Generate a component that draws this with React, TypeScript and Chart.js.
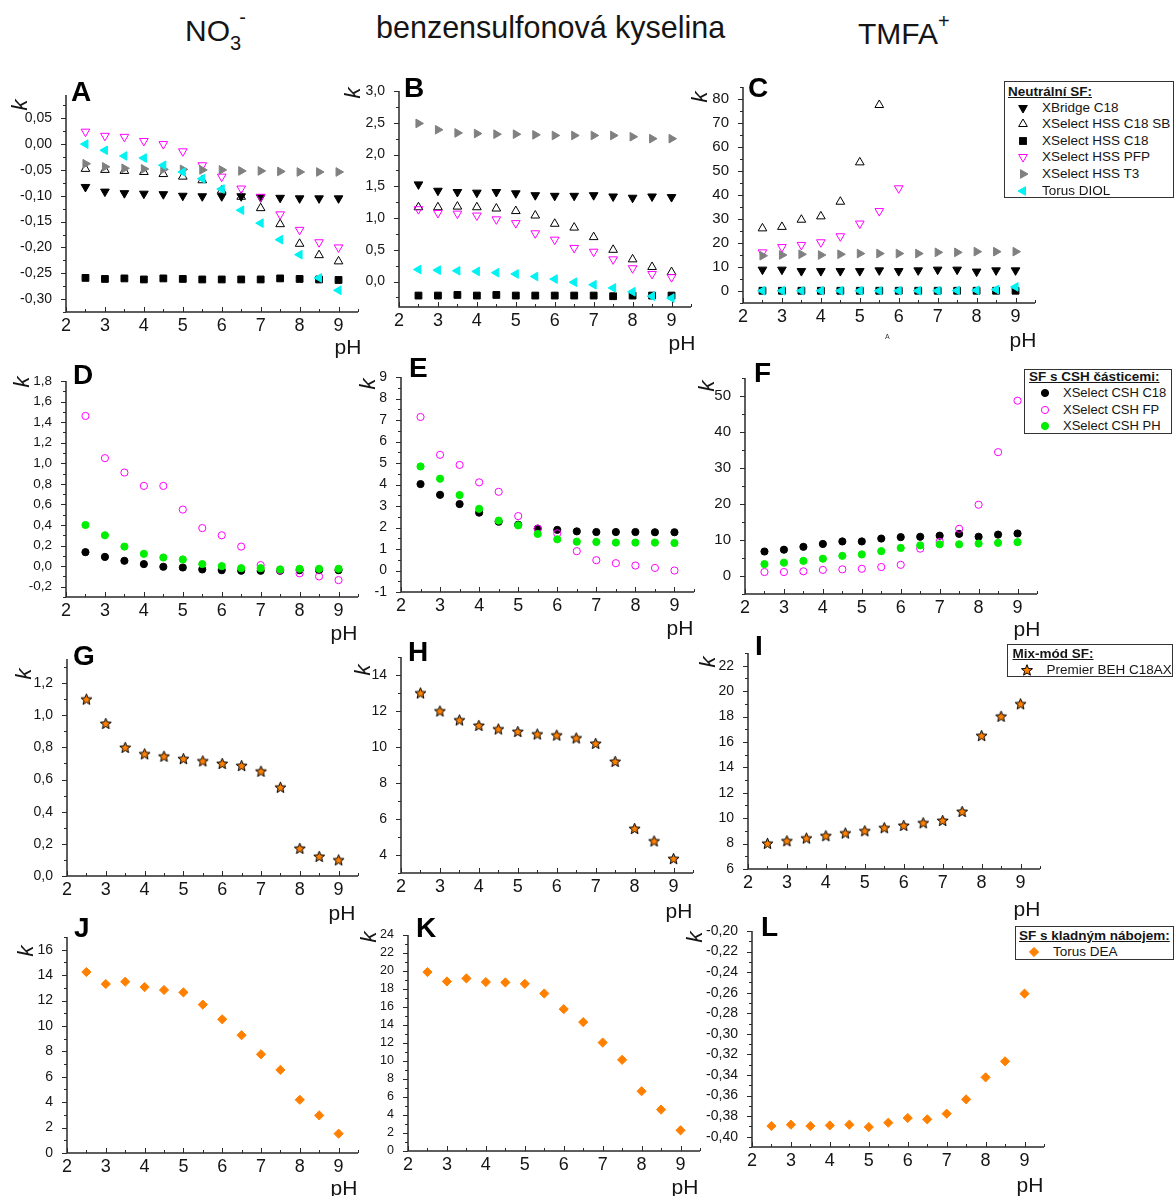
import React, { useEffect, useRef } from 'react';
import { Chart, registerables } from 'chart.js';

Chart.register(...registerables);

const FONT = "'Liberation Sans', Arial, Helvetica, sans-serif";

// ---------------- data ----------------
const PH = [2.5, 3, 3.5, 4, 4.5, 5, 5.5, 6, 6.5, 7, 7.5, 8, 8.5, 9];
const X_TICKS = [2, 3, 4, 5, 6, 7, 8, 9];

// A: NO3-, neutral phases
const A_XBRIDGE_C18 = [-0.083, -0.092, -0.095, -0.096, -0.097, -0.1, -0.101, -0.101, -0.101, -0.103, -0.104, -0.105, -0.105, -0.105];
const A_XSELECT_HSS_C18_SB = [-0.048, -0.05, -0.052, -0.054, -0.058, -0.063, -0.07, -0.09, -0.102, -0.124, -0.155, -0.193, -0.215, -0.227];
const A_XSELECT_HSS_C18 = [-0.259, -0.261, -0.26, -0.262, -0.26, -0.261, -0.262, -0.262, -0.262, -0.262, -0.26, -0.261, -0.262, -0.263];
const A_XSELECT_HSS_PFP = [0.024, 0.016, 0.014, 0.006, 0.0, -0.014, -0.041, -0.063, -0.086, -0.102, -0.136, -0.166, -0.19, -0.2];
const A_XSELECT_HSS_T3 = [-0.038, -0.044, -0.047, -0.048, -0.049, -0.049, -0.05, -0.05, -0.052, -0.052, -0.053, -0.054, -0.054, -0.054];
const A_TORUS_DIOL = [0.0, -0.012, -0.023, -0.027, -0.041, -0.054, -0.067, -0.087, -0.128, -0.153, -0.185, -0.214, -0.259, -0.283];

// B: benzenesulfonic acid, neutral phases
const B_XBRIDGE_C18 = [1.53, 1.43, 1.41, 1.4, 1.41, 1.39, 1.36, 1.35, 1.35, 1.36, 1.34, 1.32, 1.34, 1.33];
const B_XSELECT_HSS_C18_SB = [1.17, 1.17, 1.18, 1.17, 1.15, 1.11, 1.04, 0.91, 0.85, 0.7, 0.5, 0.35, 0.23, 0.15];
const B_XSELECT_HSS_C18 = [-0.22, -0.22, -0.21, -0.22, -0.21, -0.22, -0.22, -0.22, -0.22, -0.22, -0.23, -0.22, -0.22, -0.22];
const B_XSELECT_HSS_PFP = [1.14, 1.08, 1.07, 1.04, 0.98, 0.92, 0.76, 0.66, 0.53, 0.47, 0.35, 0.21, 0.12, 0.07];
const B_XSELECT_HSS_T3 = [2.49, 2.39, 2.34, 2.33, 2.32, 2.32, 2.31, 2.3, 2.3, 2.3, 2.3, 2.28, 2.25, 2.25];
const B_TORUS_DIOL = [0.19, 0.18, 0.17, 0.16, 0.14, 0.12, 0.08, 0.04, -0.01, -0.05, -0.1, -0.16, -0.23, -0.26];

// C: TMFA+, neutral phases
const C_XBRIDGE_C18 = [8.9, 8.9, 8.3, 8.3, 8.3, 8.3, 8.6, 8.3, 8.6, 8.9, 8.9, 8.1, 8.6, 8.6];
const C_XSELECT_HSS_C18_SB = [26.1, 26.7, 29.7, 31.1, 37.2, 53.6, 77.5, null, null, null, null, null, null, null];
const C_XSELECT_HSS_C18 = [0.1, 0.1, 0.1, 0.1, 0.1, 0.1, 0.1, 0.1, 0.1, 0.1, 0.1, 0.1, 0.1, 0.1];
const C_XSELECT_HSS_PFP = [16.1, 18.3, 19.2, 20.3, 22.8, 28.1, 33.3, 42.8, null, null, null, null, null, null];
const C_XSELECT_HSS_T3 = [14.7, 15.0, 15.3, 15.0, 15.3, 15.6, 15.6, 15.6, 15.6, 16.1, 16.1, 16.4, 16.4, 16.4];
const C_TORUS_DIOL = [0.1, 0.1, 0.1, 0.1, 0.1, 0.1, 0.1, 0.1, 0.1, 0.1, 0.2, 0.3, 0.6, 1.7];

// D, E, F: CSH phases
const D_CSH_C18 = [0.136, 0.09, 0.052, 0.02, -0.006, -0.013, -0.032, -0.039, -0.045, -0.045, -0.045, -0.039, -0.039, -0.039];
const D_CSH_FP = [1.46, 1.05, 0.91, 0.78, 0.78, 0.55, 0.37, 0.3, 0.19, 0.01, -0.04, -0.07, -0.1, -0.136];
const D_CSH_PH = [0.4, 0.3, 0.19, 0.12, 0.084, 0.065, 0.02, 0.0, -0.02, -0.02, -0.032, -0.026, -0.026, -0.026];

const E_CSH_C18 = [4.02, 3.52, 3.09, 2.69, 2.27, 2.13, 1.95, 1.89, 1.82, 1.79, 1.79, 1.79, 1.78, 1.78];
const E_CSH_FP = [7.14, 5.38, 4.91, 4.1, 3.66, 2.53, 1.95, 1.73, 0.9, 0.48, 0.34, 0.23, 0.12, 0.0];
const E_CSH_PH = [4.84, 4.27, 3.51, 2.87, 2.32, 2.1, 1.7, 1.45, 1.34, 1.33, 1.3, 1.3, 1.3, 1.28];

const F_CSH_C18 = [6.8, 7.3, 8.1, 8.9, 9.6, 9.6, 10.4, 10.8, 10.9, 11.2, 11.7, 10.9, 11.5, 11.8];
const F_CSH_FP = [1.1, 1.1, 1.3, 1.7, 1.85, 2.0, 2.5, 3.1, 7.6, 9.5, 13.1, 19.8, 34.4, 48.7];
const F_CSH_PH = [3.3, 3.7, 4.2, 4.8, 5.6, 6.0, 6.9, 7.8, 8.5, 8.8, 8.8, 9.0, 9.2, 9.4];

// G, H, I: mixed-mode
const G_BEH_C18AX = [1.1, 0.949, 0.8, 0.76, 0.745, 0.73, 0.716, 0.7, 0.687, 0.652, 0.552, 0.172, 0.122, 0.1];
const H_BEH_C18AX = [13.0, 12.0, 11.5, 11.2, 11.0, 10.86, 10.72, 10.66, 10.5, 10.2, 9.2, 5.47, 4.78, 3.8];
const I_BEH_C18AX = [8.02, 8.22, 8.43, 8.62, 8.83, 9.01, 9.25, 9.43, 9.64, 9.82, 10.53, 16.5, 18.02, 19.0];

// J, K, L: positively charged
const J_TORUS_DEA = [14.24, 13.3, 13.48, 13.06, 12.83, 12.64, 11.68, 10.52, 9.27, 7.77, 6.54, 4.19, 2.96, 1.52];
const K_TORUS_DEA = [19.88, 18.84, 19.18, 18.77, 18.73, 18.58, 17.5, 15.76, 14.32, 12.05, 10.13, 6.64, 4.6, 2.3];
const L_TORUS_DEA = [-0.3896, -0.3883, -0.3896, -0.389, -0.3883, -0.3906, -0.3864, -0.3818, -0.3831, -0.3776, -0.3637, -0.3423, -0.3267, -0.2609];

// y tick labels
const A_Y_TICKS = [-0.3, -0.25, -0.2, -0.15, -0.1, -0.05, 0, 0.05];
const B_Y_TICKS = [0, 0.5, 1, 1.5, 2, 2.5, 3];
const C_Y_TICKS = [0, 10, 20, 30, 40, 50, 60, 70, 80];
const D_Y_TICKS = [-0.2, 0, 0.2, 0.4, 0.6, 0.8, 1.0, 1.2, 1.4, 1.6, 1.8];
const E_Y_TICKS = [-1, 0, 1, 2, 3, 4, 5, 6, 7, 8, 9];
const F_Y_TICKS = [0, 10, 20, 30, 40, 50];
const G_Y_TICKS = [0, 0.2, 0.4, 0.6, 0.8, 1.0, 1.2];
const H_Y_TICKS = [4, 6, 8, 10, 12, 14];
const I_Y_TICKS = [6, 8, 10, 12, 14, 16, 18, 20, 22];
const J_Y_TICKS = [0, 2, 4, 6, 8, 10, 12, 14, 16];
const K_Y_TICKS = [0, 2, 4, 6, 8, 10, 12, 14, 16, 18, 20, 22, 24];
const L_Y_TICKS = [-0.4, -0.38, -0.36, -0.34, -0.32, -0.3, -0.28, -0.26, -0.24, -0.22, -0.2];

const NAMES: Record<string, string> = {
  xbridge: 'XBridge C18',
  sb: 'XSelect HSS C18 SB',
  hss: 'XSelect HSS C18',
  pfp: 'XSelect HSS PFP',
  t3: 'XSelect HSS T3',
  diol: 'Torus DIOL',
  cshC18: 'XSelect CSH C18',
  cshFP: 'XSelect CSH FP',
  cshPH: 'XSelect CSH PH',
  beh: 'Premier BEH C18AX',
  dea: 'Torus DEA',
};

// ---------------- styles ----------------
const MAGENTA = '#FF00FF';
const CYAN = '#00F2F2';
const GRAY = '#808080';
const GREEN = '#00EE00';
const ORANGE = '#FF8000';
const NONE = 'rgba(0,0,0,0)';
const AXIS_COLOR = '#2a2a2a';
const TEXT_COLOR = '#151515';

type MStyle = { shape: string; rotation: number; bg: string; border: string; radius: number };
const STYLES: Record<string, MStyle> = {
  xbridge: { shape: 'triangle', rotation: 180, bg: '#000', border: '#000', radius: 5 },
  sb: { shape: 'triangle', rotation: 0, bg: NONE, border: '#000', radius: 5 },
  hss: { shape: 'rect', rotation: 0, bg: '#000', border: '#000', radius: 4.8 },
  pfp: { shape: 'triangle', rotation: 180, bg: NONE, border: MAGENTA, radius: 5 },
  t3: { shape: 'triangle', rotation: 90, bg: GRAY, border: GRAY, radius: 5 },
  diol: { shape: 'triangle', rotation: 270, bg: CYAN, border: CYAN, radius: 5 },
  cshC18: { shape: 'circle', rotation: 0, bg: '#000', border: '#000', radius: 3.6 },
  cshFP: { shape: 'circle', rotation: 0, bg: NONE, border: MAGENTA, radius: 3.6 },
  cshPH: { shape: 'circle', rotation: 0, bg: GREEN, border: GREEN, radius: 3.6 },
  beh: { shape: 'star', rotation: 0, bg: ORANGE, border: '#000', radius: 5 },
  dea: { shape: 'rectRot', rotation: 0, bg: ORANGE, border: ORANGE, radius: 4.6 },
};

// ---------------- layout ----------------
const PL = 62, PT = 14, PR = 14, PB = 36;

type Panel = {
  id: string;
  rect: number[];
  yRange: number[];
  yTicks: number[];
  dec: number;
  ySize: number;
  series: [string, (number | null)[]][];
};

const PANELS: Panel[] = [
  { id: 'A', rect: [66, 95, 358, 312], yRange: [-0.325, 0.095], yTicks: A_Y_TICKS, dec: 2, ySize: 14,
    series: [['xbridge', A_XBRIDGE_C18], ['sb', A_XSELECT_HSS_C18_SB], ['hss', A_XSELECT_HSS_C18], ['pfp', A_XSELECT_HSS_PFP], ['t3', A_XSELECT_HSS_T3], ['diol', A_TORUS_DIOL]] },
  { id: 'B', rect: [399, 91, 691, 307], yRange: [-0.4, 3.0], yTicks: B_Y_TICKS, dec: 1, ySize: 14,
    series: [['xbridge', B_XBRIDGE_C18], ['sb', B_XSELECT_HSS_C18_SB], ['hss', B_XSELECT_HSS_C18], ['pfp', B_XSELECT_HSS_PFP], ['t3', B_XSELECT_HSS_T3], ['diol', B_TORUS_DIOL]] },
  { id: 'C', rect: [743, 87, 1035, 303], yRange: [-5, 85], yTicks: C_Y_TICKS, dec: 0, ySize: 15,
    series: [['xbridge', C_XBRIDGE_C18], ['sb', C_XSELECT_HSS_C18_SB], ['hss', C_XSELECT_HSS_C18], ['pfp', C_XSELECT_HSS_PFP], ['t3', C_XSELECT_HSS_T3], ['diol', C_TORUS_DIOL]] },
  { id: 'D', rect: [66, 381, 358, 597], yRange: [-0.3, 1.8], yTicks: D_Y_TICKS, dec: 1, ySize: 13.5,
    series: [['cshC18', D_CSH_C18], ['cshFP', D_CSH_FP], ['cshPH', D_CSH_PH]] },
  { id: 'E', rect: [401, 377, 694, 592], yRange: [-1, 9], yTicks: E_Y_TICKS, dec: 0, ySize: 14,
    series: [['cshC18', E_CSH_C18], ['cshFP', E_CSH_FP], ['cshPH', E_CSH_PH]] },
  { id: 'F', rect: [745, 378, 1037, 594], yRange: [-5, 55], yTicks: F_Y_TICKS, dec: 0, ySize: 15,
    series: [['cshC18', F_CSH_C18], ['cshFP', F_CSH_FP], ['cshPH', F_CSH_PH]] },
  { id: 'G', rect: [67, 659, 358, 876], yRange: [0, 1.35], yTicks: G_Y_TICKS, dec: 1, ySize: 14,
    series: [['beh', G_BEH_C18AX]] },
  { id: 'H', rect: [401, 657, 693, 873], yRange: [3, 15], yTicks: H_Y_TICKS, dec: 0, ySize: 14,
    series: [['beh', H_BEH_C18AX]] },
  { id: 'I', rect: [748, 653, 1040, 869], yRange: [6, 23], yTicks: I_Y_TICKS, dec: 0, ySize: 14,
    series: [['beh', I_BEH_C18AX]] },
  { id: 'J', rect: [67, 937, 358, 1153], yRange: [0, 17], yTicks: J_Y_TICKS, dec: 0, ySize: 14,
    series: [['dea', J_TORUS_DEA]] },
  { id: 'K', rect: [408, 935, 700, 1151], yRange: [0, 24], yTicks: K_Y_TICKS, dec: 0, ySize: 12.5,
    series: [['dea', K_TORUS_DEA]] },
  { id: 'L', rect: [752, 931, 1044, 1147], yRange: [-0.41, -0.2], yTicks: L_Y_TICKS, dec: 2, ySize: 14,
    series: [['dea', L_TORUS_DEA]] },
];

// panel letters: [letter, left, baseline]
const LETTERS: [string, number, number][] = [
  ['A', 71, 102], ['B', 404, 98], ['C', 748, 98],
  ['D', 73, 385], ['E', 409, 378], ['F', 754, 383],
  ['G', 73, 666], ['H', 408, 662], ['I', 755, 656],
  ['J', 74, 938], ['K', 416, 938], ['L', 761, 937],
];
// k labels: centres
const K_LABELS: [number, number][] = [
  [20, 105], [353, 93], [700, 97],
  [22, 382], [368, 384], [707, 386],
  [24, 674], [363, 670], [708, 662],
  [26, 951], [369, 937], [695, 937],
];
// pH labels: centres
const PH_LABELS: [number, number][] = [
  [348, 346], [682, 342], [1023, 339],
  [344, 632], [680, 627], [1027, 628],
  [342, 912], [679, 910], [1027, 908],
  [344, 1187], [685, 1186], [1030, 1184],
];

type LegendDef = {
  box: number[]; // left, top, width, height
  title: string;
  titleX: number;
  titleY: number;
  markerX: number;
  textX: number;
  fontSize: number;
  rows: [string, number][]; // style key, centre y
};

const LEGENDS: LegendDef[] = [
  { box: [1004, 81, 170, 117], title: 'Neutrální SF:', titleX: 1008, titleY: 92, markerX: 1023, textX: 1042, fontSize: 13.5,
    rows: [['xbridge', 107.5], ['sb', 124], ['hss', 140.7], ['pfp', 157.3], ['t3', 174], ['diol', 190.7]] },
  { box: [1024, 369, 148, 65], title: 'SF s CSH částicemi:', titleX: 1029, titleY: 377, markerX: 1045, textX: 1063, fontSize: 13,
    rows: [['cshC18', 393.3], ['cshFP', 410], ['cshPH', 426]] },
  { box: [1007, 644, 166, 33], title: 'Mix-mód SF:', titleX: 1012.5, titleY: 653.5, markerX: 1027, textX: 1046.5, fontSize: 13.5,
    rows: [['beh', 670]] },
  { box: [1015, 926, 159, 34], title: 'SF s kladným nábojem:', titleX: 1019, titleY: 935.5, markerX: 1034, textX: 1053, fontSize: 13.5,
    rows: [['dea', 952.3]] },
];

// ---------------- helpers ----------------
function starPts(cx: number, cy: number, R: number, r: number): number[][] {
  const pts: number[][] = [];
  for (let i = 0; i < 10; i++) {
    const a = (-90 + i * 36) * Math.PI / 180;
    const rad = i % 2 === 0 ? R : r;
    pts.push([cx + rad * Math.cos(a), cy + rad * Math.sin(a)]);
  }
  return pts;
}

function makeStarImage(): HTMLCanvasElement {
  const c = document.createElement('canvas');
  c.width = 13;
  c.height = 13;
  const ctx = c.getContext('2d')!;
  const pts = starPts(6.5, 7, 5.8, 2.5);
  ctx.beginPath();
  pts.forEach((p, i) => (i === 0 ? ctx.moveTo(p[0], p[1]) : ctx.lineTo(p[0], p[1])));
  ctx.closePath();
  ctx.fillStyle = ORANGE;
  ctx.fill();
  ctx.strokeStyle = '#000';
  ctx.lineWidth = 1;
  ctx.lineJoin = 'miter';
  ctx.stroke();
  return c;
}

const fmt = (v: number, dec: number) => v.toFixed(dec).replace('.', ',');

const axesPlugin = {
  id: 'originAxes',
  afterDraw(chart: any) {
    const { ctx, chartArea: a } = chart;
    const xs = chart.scales.x;
    const ys = chart.scales.y;
    const yv: number[] = ys.ticks.map((t: any) => t.value);
    const xv: number[] = xs.ticks.map((t: any) => t.value);
    ctx.save();
    ctx.strokeStyle = AXIS_COLOR;
    ctx.lineWidth = 1;
    ctx.beginPath();
    const drawY = (v: number, len: number) => {
      if (v < ys.min - 1e-9 || v > ys.max + 1e-9) return;
      const p = Math.round(ys.getPixelForValue(v)) + 0.5;
      ctx.moveTo(a.left - len, p);
      ctx.lineTo(a.left, p);
    };
    const drawX = (v: number, len: number) => {
      if (v < xs.min - 1e-9 || v > xs.max + 1e-9) return;
      const p = Math.round(xs.getPixelForValue(v)) + 0.5;
      ctx.moveTo(p, a.bottom);
      ctx.lineTo(p, a.bottom - len);
    };
    const ys_ = yv[1] - yv[0];
    yv.forEach((v) => drawY(v, 5));
    for (let k = -1; k < yv.length; k++) drawY(yv[0] + (k + 0.5) * ys_, 3);
    const xs_ = xv[1] - xv[0];
    xv.forEach((v) => drawX(v, 5));
    for (let k = -1; k < xv.length; k++) drawX(xv[0] + (k + 0.5) * xs_, 3);
    ctx.stroke();
    ctx.lineWidth = 1.5;
    ctx.beginPath();
    ctx.moveTo(a.left, a.top);
    ctx.lineTo(a.left, a.bottom);
    ctx.lineTo(a.right, a.bottom);
    ctx.stroke();
    ctx.restore();
  },
};

function makeChart(canvas: HTMLCanvasElement, panel: Panel, star: HTMLCanvasElement) {
  const n = panel.series.length;
  const datasets = panel.series.map(([key, values], i) => {
    const s = STYLES[key];
    const data: { x: number; y: number }[] = [];
    PH.forEach((x, j) => {
      const y = values[j];
      if (y !== null && y !== undefined) data.push({ x, y });
    });
    return {
      label: NAMES[key],
      data,
      pointStyle: s.shape === 'star' ? star : s.shape,
      rotation: s.rotation,
      backgroundColor: s.bg,
      borderColor: s.border,
      borderWidth: 1,
      pointRadius: s.radius,
      pointHoverRadius: s.radius,
      showLine: false,
      clip: false,
      order: n - i,
    };
  });
  return new Chart(canvas, {
    type: 'scatter',
    data: { datasets } as any,
    options: {
      animation: false,
      responsive: false,
      events: [],
      layout: { padding: { top: PT, right: PR, left: 0, bottom: 0 }, autoPadding: false },
      plugins: { legend: { display: false }, tooltip: { enabled: false }, title: { display: false } },
      scales: {
        x: {
          type: 'linear',
          position: 'bottom',
          min: 2,
          max: 9.5,
          afterBuildTicks: (s: any) => { s.ticks = X_TICKS.map((v) => ({ value: v })); },
          afterFit: (s: any) => { s.height = PB; },
          grid: { display: false },
          border: { display: false },
          ticks: {
            autoSkip: false,
            maxRotation: 0,
            padding: -3,
            color: TEXT_COLOR,
            font: { family: FONT, size: 18, lineHeight: 1 },
            callback: (v: any) => String(v),
          },
        },
        y: {
          type: 'linear',
          position: 'left',
          min: panel.yRange[0],
          max: panel.yRange[1],
          afterBuildTicks: (s: any) => { s.ticks = panel.yTicks.map((v) => ({ value: v })); },
          afterFit: (s: any) => { s.width = PL; },
          grid: { display: false },
          border: { display: false },
          ticks: {
            autoSkip: false,
            padding: 6,
            color: TEXT_COLOR,
            font: { family: FONT, size: panel.ySize, lineHeight: 1 },
            callback: (v: any) => fmt(Number(v), panel.dec),
          },
        },
      },
    } as any,
    plugins: [axesPlugin],
  });
}

function MarkerIcon({ kind, cx, cy }: { kind: string; cx: number; cy: number }) {
  const s = STYLES[kind];
  const c = 8;
  const r = s.radius;
  const fill = s.bg === NONE ? 'none' : s.bg;
  let shape: any = null;
  if (s.shape === 'triangle') {
    const pts = [0, 120, 240]
      .map((a) => {
        const rad = ((a + s.rotation) * Math.PI) / 180;
        return `${c + Math.sin(rad) * r},${c - Math.cos(rad) * r}`;
      })
      .join(' ');
    shape = <polygon points={pts} fill={fill} stroke={s.border} strokeWidth={1} />;
  } else if (s.shape === 'rect') {
    const h = Math.SQRT1_2 * r;
    shape = <rect x={c - h} y={c - h} width={2 * h} height={2 * h} fill={fill} stroke={s.border} strokeWidth={1} />;
  } else if (s.shape === 'circle') {
    shape = <circle cx={c} cy={c} r={r} fill={fill} stroke={s.border} strokeWidth={1} />;
  } else if (s.shape === 'rectRot') {
    shape = <polygon points={`${c},${c - r} ${c + r},${c} ${c},${c + r} ${c - r},${c}`} fill={fill} stroke={s.border} strokeWidth={1} />;
  } else if (s.shape === 'star') {
    const pts = starPts(c, c + 0.5, 5.8, 2.5).map((p) => `${p[0]},${p[1]}`).join(' ');
    shape = <polygon points={pts} fill={fill} stroke={s.border} strokeWidth={1} />;
  }
  return (
    <svg width={16} height={16} style={{ position: 'absolute', left: cx - 8, top: cy - 8 }}>
      {shape}
    </svg>
  );
}

function Legend({ d }: { d: LegendDef }) {
  const [l, t, w, h] = d.box;
  return (
    <>
      <div
        style={{
          position: 'absolute',
          left: l,
          top: t,
          width: w,
          height: h,
          boxSizing: 'border-box',
          border: '1.5px solid #333',
          background: '#fff',
        }}
      />
      <div
        style={{
          position: 'absolute',
          left: d.titleX,
          top: d.titleY - 8,
          height: 16,
          lineHeight: '16px',
          fontSize: 13.5,
          fontWeight: 'bold',
          textDecoration: 'underline',
          whiteSpace: 'nowrap',
          color: TEXT_COLOR,
        }}
      >
        {d.title}
      </div>
      {d.rows.map(([key, y]) => (
        <React.Fragment key={key}>
          <MarkerIcon kind={key} cx={d.markerX} cy={y} />
          <div
            style={{
              position: 'absolute',
              left: d.textX,
              top: y - 8,
              height: 16,
              lineHeight: '16px',
              fontSize: d.fontSize,
              whiteSpace: 'nowrap',
              color: TEXT_COLOR,
            }}
          >
            {NAMES[key]}
          </div>
        </React.Fragment>
      ))}
    </>
  );
}

export default function App() {
  const refs = useRef<(HTMLCanvasElement | null)[]>([]);

  useEffect(() => {
    const star = makeStarImage();
    const charts = PANELS.map((p, i) => makeChart(refs.current[i] as HTMLCanvasElement, p, star));
    return () => {
      charts.forEach((c) => c.destroy());
    };
  }, []);

  return (
    <div
      style={{
        position: 'absolute',
        left: 0,
        top: 0,
        width: 1176,
        height: 1196,
        background: '#fff',
        overflow: 'hidden',
        fontFamily: FONT,
        color: TEXT_COLOR,
      }}
    >
      {PANELS.map((p, i) => {
        const [l, t, r, b] = p.rect;
        return (
          <canvas
            key={p.id}
            ref={(el) => {
              refs.current[i] = el;
            }}
            width={r - l + PL + PR}
            height={b - t + PT + PB}
            style={{ position: 'absolute', left: l - PL, top: t - PT }}
          />
        );
      })}

      {/* column titles */}
      <div style={{ position: 'absolute', left: 185, top: 16, fontSize: 30, lineHeight: '30px', whiteSpace: 'nowrap' }}>
        NO
        <span style={{ fontSize: 20, position: 'relative', top: 9 }}>3</span>
        <span style={{ fontSize: 20, position: 'relative', top: -17, marginLeft: -2 }}>-</span>
      </div>
      <div style={{ position: 'absolute', left: 376, top: 12, fontSize: 30.5, lineHeight: '30px', whiteSpace: 'nowrap' }}>
        benzensulfonová kyselina
      </div>
      <div style={{ position: 'absolute', left: 858, top: 19, fontSize: 30, lineHeight: '30px', whiteSpace: 'nowrap' }}>
        TMFA
        <span style={{ fontSize: 20, position: 'relative', top: -16 }}>+</span>
      </div>

      {LETTERS.map(([ch, x, base]) => (
        <div
          key={ch}
          style={{
            position: 'absolute',
            left: x,
            top: base - 23.7,
            fontSize: 28,
            lineHeight: '28px',
            fontWeight: 'bold',
            color: '#000',
          }}
        >
          {ch}
        </div>
      ))}

      {K_LABELS.map(([x, y], i) => (
        <div
          key={'k' + i}
          style={{
            position: 'absolute',
            left: x,
            top: y,
            fontSize: 22,
            lineHeight: '22px',
            fontStyle: 'italic',
            transform: 'translate(-50%, -50%) rotate(-90deg)',
          }}
        >
          k
        </div>
      ))}

      {PH_LABELS.map(([x, y], i) => (
        <div
          key={'ph' + i}
          style={{
            position: 'absolute',
            left: x,
            top: y,
            fontSize: 21,
            lineHeight: '21px',
            transform: 'translate(-50%, -50%)',
            whiteSpace: 'nowrap',
          }}
        >
          pH
        </div>
      ))}

      <div style={{ position: 'absolute', left: 885, top: 333, fontSize: 7, lineHeight: '8px', color: '#333' }}>A</div>

      {LEGENDS.map((d, i) => (
        <Legend key={'lg' + i} d={d} />
      ))}
    </div>
  );
}
